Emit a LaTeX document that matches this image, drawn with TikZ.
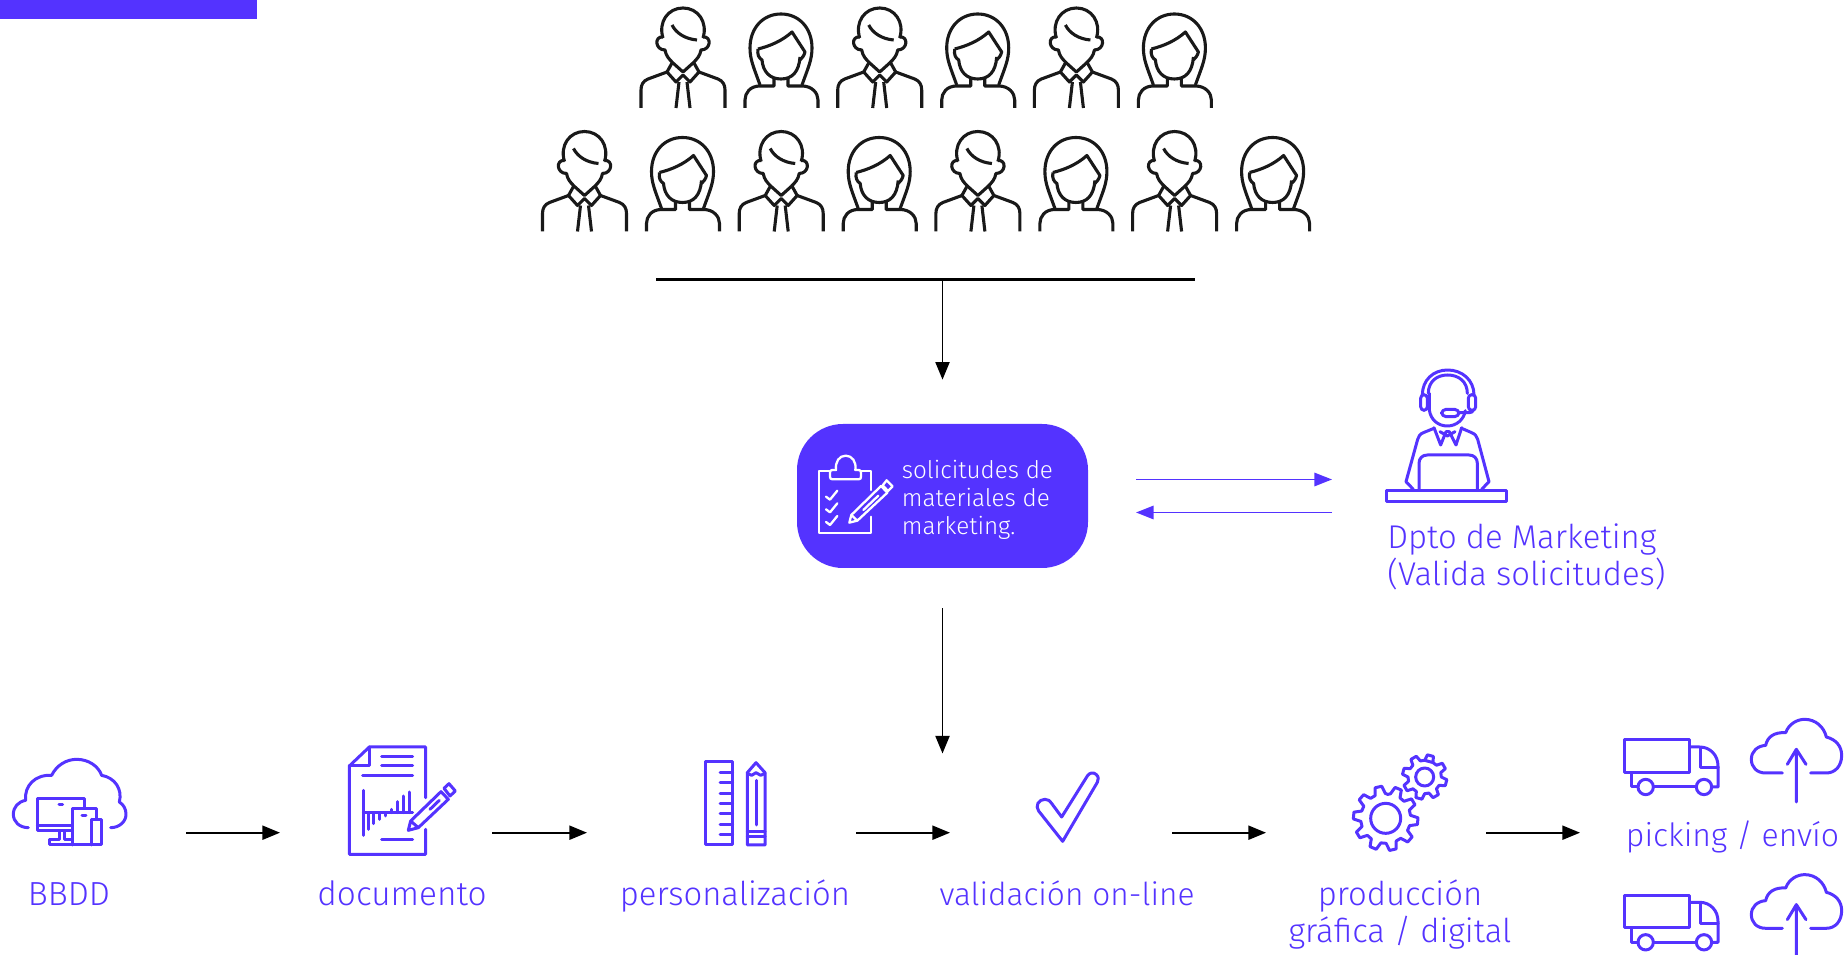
\documentclass[tikz,border=0pt]{standalone}
\usepackage{fontspec}
\setmainfont{Fira Sans}[UprightFont=* Light]
\usetikzlibrary{arrows.meta}
\definecolor{vio}{HTML}{5433FF}
\tikzset{
  x=0.02cm,y=-0.02cm,
  px/.style={line width=#1*0.02cm},
  ink/.style={draw=vio,px=3,line join=round,line cap=round},
  inkw/.style={draw=white,px=2.3,line join=round,line cap=round},
  blk/.style={draw=black!90,px=3.1,line join=round},
  flow/.style={draw=black,px=1.8,-{Triangle[length=10pt,width=8pt]}},
  pflow/.style={draw=vio,px=1.9,-{Triangle[length=10pt,width=7.6pt]}},
  lab/.style={text=vio,font=\fontsize{18.7pt}{21.5pt}\selectfont,align=center,inner sep=0pt,anchor=base},
  man/.pic={
    \draw[blk] (33,38) .. controls (28,22) and (38,8) .. (53,8) .. controls (68,8) and (78,22) .. (73,38);
    \draw[blk] (33,37) .. controls (24,36) and (25,50) .. (35,50) .. controls (36,56) and (39,59) .. (43,63) -- (53,72) -- (63,63) .. controls (67,59) and (70,56) .. (71,50) .. controls (81,50) and (82,36) .. (73,37);
    \draw[blk] (42,25) .. controls (46,33) and (55,39) .. (67,40);
    \draw[blk] (42,63) -- (37,72) -- (46,82) -- (53,75) -- (60,82) -- (69,72) -- (64,63);
    \draw[blk] (49,82) -- (46,108) (57,82) -- (60,108);
    \draw[blk] (37,72) -- (18,79) .. controls (13,81) and (11,85) .. (11,90) -- (11,108);
    \draw[blk] (69,72) -- (88,79) .. controls (93,81) and (95,85) .. (95,90) -- (95,108);
  },
  woman/.pic={
    \draw[blk] (130,85) .. controls (124,68) and (120,60) .. (120,48) .. controls (120,28) and (133,14) .. (151,14) .. controls (169,14) and (182,28) .. (182,48) .. controls (182,60) and (178,68) .. (172,85);
    \draw[blk] (128,49) .. controls (140,46) and (152,41) .. (162,32) -- (175,52) .. controls (174,56) and (172,58) .. (170,60);
    \draw[blk] (128,49) .. controls (127,55) and (129,58) .. (132,60) .. controls (133,72) and (140,79) .. (151,79) .. controls (162,79) and (169,72) .. (170,57);
    \draw[blk] (144,78) -- (144,86) -- (130,86) .. controls (120,86) and (115,93) .. (115,100) -- (115,108);
    \draw[blk] (158,78) -- (158,86) -- (172,86) .. controls (182,86) and (188,93) .. (188,100) -- (188,108);
  },
  cloudup/.pic={
    \draw[ink] (1375,213) -- (1325,213) .. controls (1298,213) and (1282,195) .. (1282,172) .. controls (1282,148) and (1300,132) .. (1325,130) .. controls (1330,105) and (1350,90) .. (1385,92) .. controls (1395,65) and (1420,52) .. (1442,52) .. controls (1475,52) and (1500,75) .. (1507,105) .. controls (1535,112) and (1553,132) .. (1553,160) .. controls (1553,190) and (1535,213) .. (1507,213) -- (1460,213);
    \draw[ink] (1417,300) -- (1417,142) (1390,187) -- (1417,142) -- (1446,187);
  },
  truck/.pic={
    \draw[ink] (905,114) rectangle (1100,212);
    \draw[ink] (1100,135) -- (1130,135) .. controls (1162,135) and (1185,160) .. (1185,192) -- (1185,255) -- (1168,255);
    \draw[ink] (1133,137) -- (1133,198) -- (1185,198);
    \draw[ink] (925,212) -- (925,255) -- (945,255) (992,255) -- (1119,255);
    \draw[ink] (968,255) circle (23) (1143,255) circle (23);
  },
}
\begin{document}
\begin{tikzpicture}
\useasboundingbox (0,0) rectangle (1847,955);
\clip (0,0) rectangle (1847,955);
\fill[vio] (0,0) rectangle (257,19);

% people
\foreach \d in {0,196.7,393.4}{
  \pic at (630+\d,0) {man};
  \pic at (630+\d,0) {woman};
}
\foreach \d in {0,196.7,393.4,590.1}{
  \pic at (531.5+\d,123.5) {man};
  \pic at (531.5+\d,123.5) {woman};
}

% bar and arrow
\coordinate (barL) at (656,279.5);
\coordinate (barR) at (1195,279.5);
\coordinate (barM) at (942.5,279.5);
\draw[draw=black,px=2.2] (barL) -- (barR);

% request box
\node[fill=vio,inner sep=0pt,minimum width=291*0.02cm,minimum height=144*0.02cm,rounded corners=46*0.02cm] (req) at (942.5,496) {};
\node[anchor=base west,text=white,align=left,inner sep=0pt,font=\fontsize{13.8pt}{16pt}\selectfont] (reqtxt) at (901.5,535) {solicitudes de\\materiales de\\marketing.};
\draw[flow,shorten >=44*0.02cm] (barM) -- (req.north);
\begin{scope}[shift={(780,410)},scale=1/3]
  \draw[inkw] (148,182) -- (118,182) -- (118,370) -- (273,370) -- (273,320) (273,240) -- (273,182) -- (243,182);
  \draw[inkw] (168,180) .. controls (165,155) and (178,137) .. (197,137) .. controls (216,137) and (230,155) .. (226,180) -- (236,180) .. controls (241,180) and (243,183) .. (243,188) -- (243,200) .. controls (243,205) and (241,208) .. (236,208) -- (157,208) .. controls (152,208) and (150,205) .. (150,200) -- (150,188) .. controls (150,183) and (152,180) .. (157,180) -- cycle;
  \foreach \yy in {0,38,76}{\draw[inkw] (138,260+\yy) -- (150,269+\yy) -- (172,242+\yy);}
  \draw[inkw] (208,338) -- (214,315) -- (303,228) -- (322,248) -- (232,332) -- cycle (214,315) -- (232,332) (250,300) -- (295,257);
  \draw[inkw] (308,226) -- (320,211) -- (338,229) -- (324,243) -- cycle;
\end{scope}

% marketing
\node[lab,anchor=base west,align=left] (mkt) at (1387,586) {Dpto de Marketing\\(Valida solicitudes)};
\begin{scope}[shift={(1360,360)},scale=1/3]
  \draw[ink] (187,105) .. controls (187,60) and (220,30) .. (263,30) .. controls (306,30) and (342,60) .. (342,105);
  \draw[ink] (205,100) .. controls (205,65) and (230,45) .. (263,45) .. controls (296,45) and (322,65) .. (322,100);
  \draw[ink,rounded corners=2pt] (182,104) rectangle (202,151);
  \draw[ink,rounded corners=2pt] (325,104) rectangle (347,151);
  \draw[ink] (208,100) -- (208,150) .. controls (212,180) and (235,198) .. (262,198) .. controls (290,198) and (312,178) .. (316,152);
  \draw[ink,rounded corners=2.5pt] (245,148) rectangle (297,170);
  \draw[ink] (297,158) -- (328,158) .. controls (334,158) and (338,155) .. (340,151);
  \draw[ink] (222,203) -- (242,255) -- (258,215) -- (268,215) -- (288,255) -- (305,203);
  \draw[ink] (240,215) -- (262,228) -- (285,215);
  \draw[ink] (222,205) -- (190,218) .. controls (180,222) and (176,228) .. (173,238) -- (138,365) -- (160,388);
  \draw[ink] (305,205) -- (335,218) .. controls (345,222) and (350,228) .. (353,238) -- (387,365) -- (365,388);
  \draw[ink] (177,390) -- (177,310) .. controls (177,295) and (187,285) .. (202,285) -- (327,285) .. controls (342,285) and (352,295) .. (352,310) -- (352,390) ;
  \draw[ink] (80,391) rectangle (440,425);
\end{scope}
\coordinate (reqA) at (1136,479.5);
\coordinate (mktA) at (1332,479.5);
\coordinate (reqB) at (1136,512.5);
\coordinate (mktB) at (1332,512.5);
\draw[pflow] (reqA) -- (mktA);
\draw[pflow] (mktB) -- (reqB);

% BBDD & document
\node[lab,font=\fontsize{19pt}{21.3pt}\selectfont] (bbddtxt) at (69,905.5) {BBDD};
\begin{scope}[shift={(0,731)},scale=1/3]
  \draw[ink] (85,290) .. controls (58,290) and (40,272) .. (40,250) .. controls (40,228) and (55,212) .. (77,208) .. controls (72,165) and (105,130) .. (155,133) .. controls (170,102) and (200,85) .. (230,85) .. controls (265,85) and (295,105) .. (305,133) .. controls (345,140) and (368,175) .. (358,213) .. controls (372,222) and (378,235) .. (378,250) .. controls (378,272) and (358,290) .. (332,290);
  \draw[ink] (212,300) -- (112,300) -- (112,203) -- (255,203) -- (255,232);
  \draw[ink] (112,285) -- (212,285);
  \draw[ink] (218,342) -- (218,233) -- (290,233) -- (290,265);
  \draw[ink] (275,265) -- (305,265) -- (305,342) -- (150,342) -- (150,325) -- (180,325) -- (180,300) (195,300) -- (195,325) -- (215,325) (275,265) -- (275,342);
  \draw[ink] (177,222) -- (188,222) (246,255) -- (258,255);
\end{scope}
\node[lab,font=\fontsize{19pt}{21.3pt}\selectfont] (doctxt) at (402,905.5) {documento};
\begin{scope}[shift={(0,731)},scale=1/3]
  \draw[ink] (1277,200) -- (1277,48) -- (1108,48) -- (1048,105) -- (1048,370) -- (1277,370) -- (1277,295);
  \draw[ink] (1048,105) -- (1108,105) -- (1108,48);
  \draw[ink] (1145,77) -- (1238,77) (1145,105) -- (1238,105) (1088,134) -- (1238,134) (1145,325) -- (1238,325);
  \draw[ink] (1090,178) -- (1090,313) (1090,245) -- (1238,245);
  \foreach \xx/\yy in {1106/295,1122/278,1140/265,1157/255,1175/235,1192/212,1210/195,1228/183}{\draw[ink] (\xx,245) -- (\xx,\yy);}
  \draw[ink] (1225,298) -- (1232,270) -- (1323,182) -- (1345,205) -- (1255,290) -- cycle (1232,270) -- (1255,290) (1290,235) -- (1318,208);
  \draw[ink] (1332,172) -- (1347,158) -- (1366,180) -- (1350,195) -- cycle;
\end{scope}

% personalizacion
\node[lab] (perstxt) at (735,905.5) {personalización};
\begin{scope}[shift={(680,741)},scale=1/3]
  \draw[ink] (75,62) rectangle (158,312);
  \foreach \yy in {95,125,157,187,218,250,282}{\draw[ink] (120,\yy) -- (158,\yy);}
  \draw[ink] (202,95) -- (228,65) -- (255,95) -- (255,312) -- (202,312) -- cycle;
  \draw[ink] (202,97) -- (215,103) -- (228,95) -- (242,103) -- (255,97);
  \draw[ink] (228,118) -- (228,252) (202,272) -- (255,272) (202,288) -- (255,288);
\end{scope}

% validacion
\node[lab,font=\fontsize{18pt}{21.3pt}\selectfont] (valtxt) at (1067,905.5) {validación on-line};
\begin{scope}[shift={(680,741)},scale=1/3]
  \draw[ink] (1148,301) -- (1076,210) .. controls (1065,195) and (1075,175) .. (1095,175) .. controls (1105,175) and (1110,180) .. (1114,186) -- (1145,228) -- (1222,105) .. controls (1228,95) and (1240,93) .. (1248,100) .. controls (1256,106) and (1257,116) .. (1252,124) -- cycle;
\end{scope}

% gears
\node[lab] (prodtxt) at (1400,943) {producción\\gráfica / digital};
\begin{scope}[shift={(1320,701)},scale=1/3]
  \draw[ink] (197,352) circle (45);
  \draw[ink] (314,228) circle (27);
  \draw[ink] (197+72*cos 85,352-72*sin 85)
    \foreach \a in {103,139,...,427}{ -- ({197+75*cos(\a-12)},{352-75*sin(\a-12)}) -- ({197+97*cos(\a-6)},{352-97*sin(\a-6)}) -- ({197+97*cos(\a+6)},{352-97*sin(\a+6)}) -- ({197+75*cos(\a+12)},{352-75*sin(\a+12)}) } -- cycle;
  \draw[ink] ({314+50*cos 60},{228-50*sin 60})
    \foreach \a in {75,120,...,435}{ -- ({314+50*cos(\a-15)},{228-50*sin(\a-15)}) -- ({314+67*cos(\a-8)},{228-67*sin(\a-8)}) -- ({314+67*cos(\a+8)},{228-67*sin(\a+8)}) -- ({314+50*cos(\a+15)},{228-50*sin(\a+15)}) } -- cycle;
\end{scope}

% picking
\node[lab,font=\fontsize{18.2pt}{21.3pt}\selectfont] (picktxt) at (1732.5,846.5) {picking / envío};
\pic[scale=1/3] at (1323,702) {truck};
\pic[scale=1/3] at (1324,702) {cloudup};
\pic[scale=1/3] at (1323,857.3) {truck};
\pic[scale=1/3] at (1324,857.3) {cloudup};

% flow arrows
\coordinate (bbddE) at (186,832.7);
\coordinate (docW) at (280,832.7);
\coordinate (docE) at (492,832.7);
\coordinate (persW) at (587,832.7);
\coordinate (persE) at (856,832.7);
\coordinate (valW) at (950,832.7);
\coordinate (valE) at (1172,832.7);
\coordinate (prodW) at (1266,832.7);
\coordinate (prodE) at (1486,832.7);
\coordinate (pickW) at (1580,832.7);
\coordinate (valN) at (942.5,753.5);
\draw[flow] (bbddE) -- (docW);
\draw[flow] (docE) -- (persW);
\draw[flow] (persE) -- (valW);
\draw[flow] (valE) -- (prodW);
\draw[flow] (prodE) -- (pickW);
\draw[flow,shorten <=40*0.02cm] (req.south) -- (valN);
\end{tikzpicture}
\end{document}
